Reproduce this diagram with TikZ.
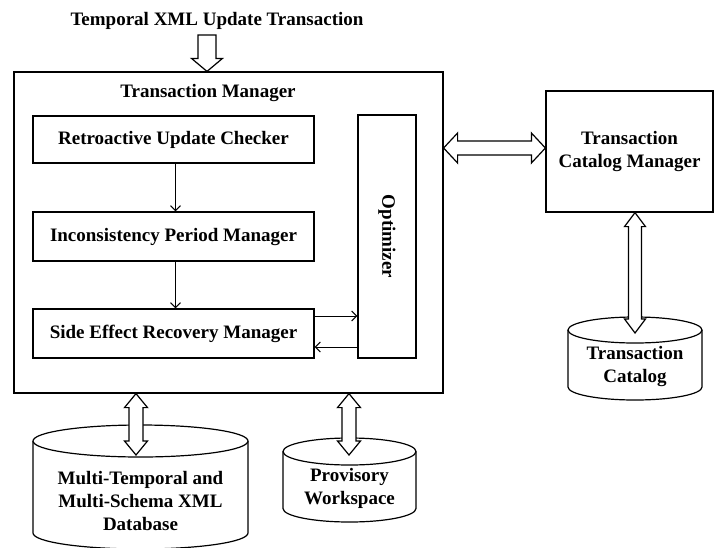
\documentclass[tikz,border=0pt]{standalone}
\usepackage{fontspec}
\setmainfont{Liberation Serif}
\usetikzlibrary{calc,arrows.meta}
\tikzset{
  box/.style={draw, line width=1.2pt, fill=white, inner sep=0pt, font=\bfseries\fontsize{19}{23}\selectfont, align=center},
  lbl/.style={font=\bfseries\fontsize{19}{23}\selectfont, align=center, inner sep=0pt},
  thinarr/.style={line width=1pt, -{Straight Barb[length=5pt,width=10pt]}},
  hollow/.style={draw, line width=1.2pt, fill=white, line join=miter},
  cyl/.style={line width=1.2pt, fill=white},
}
% double hollow arrow: from, to, half shaft width, half head width
\newcommand\dblarrow[4]{%
  \path[hollow] let \p1=(#1), \p2=(#2), \n1={veclen(\x2-\x1,\y2-\y1)}, \n2={atan2(\y2-\y1,\x2-\x1)} in
   [shift={(\p1)}, rotate=\n2] (0pt,0pt) -- (14pt,#4) -- (14pt,#3) -- (\n1-14pt,#3) -- (\n1-14pt,#4) -- (\n1,0pt)
   -- (\n1-14pt,-#4) -- (\n1-14pt,-#3) -- (14pt,-#3) -- (14pt,-#4) -- cycle;}
% single hollow arrow: from, to, half shaft width, half head width
\newcommand\sglarrow[4]{%
  \path[hollow] let \p1=(#1), \p2=(#2), \n1={veclen(\x2-\x1,\y2-\y1)}, \n2={atan2(\y2-\y1,\x2-\x1)} in
   [shift={(\p1)}, rotate=\n2] (0pt,#3) -- (\n1-13pt,#3) -- (\n1-13pt,#4) -- (\n1,0pt)
   -- (\n1-13pt,-#4) -- (\n1-13pt,-#3) -- (0pt,-#3) -- cycle;}
\begin{document}
\begin{tikzpicture}[x=1pt,y=-1pt]
\useasboundingbox (0,0) rectangle (715,547);

% title
\node[lbl] (title) at (217,21) {Temporal XML Update Transaction};

% transaction manager
\node[box, minimum width=429pt, minimum height=321pt] (tm) at (228.5,232.5) {};
\node[lbl] (tmlbl) at (208,93) {Transaction Manager};
\node[box, minimum width=281pt, minimum height=47pt] (ruc) at (173.5,139.5) {Retroactive Update Checker};
\node[box, minimum width=281pt, minimum height=49pt] (ipm) at (173.5,236.5) {Inconsistency Period Manager};
\node[box, minimum width=281pt, minimum height=49pt] (serm) at (173.5,333.5) {Side Effect Recovery Manager};
\node[box, minimum width=58pt, minimum height=243pt] (opt) at (387,236.5) {};
\node[lbl, rotate=-90] (optlbl) at (opt.center) {Optimizer};

% internal arrows
\draw[thinarr] ([xshift=2pt]ruc.south) -- ([xshift=2pt]ipm.north);
\draw[thinarr] ([xshift=2pt]ipm.south) -- ([xshift=2pt]serm.north);
\draw[thinarr] (serm.east |- 0,316) -- (opt.west |- 0,316);
\draw[thinarr] (opt.west |- 0,347) -- (serm.east |- 0,347);

% transaction catalog manager
\node[box, minimum width=167pt, minimum height=121pt] (tcm) at (629.5,151.5) {Transaction\\Catalog Manager};

% cylinders
% transaction catalog
\draw[cyl] (568,330) -- (568,387) arc[start angle=180,end angle=360,x radius=67pt,y radius=13pt] -- (702,330);
\draw[cyl] (635,330) ellipse[x radius=67pt, y radius=13pt];
\node[lbl] (tc) at (635,366) {Transaction\\Catalog};
% database
\draw[cyl] (33,441) -- (33,533) arc[start angle=180,end angle=360,x radius=107.5pt,y radius=16pt] -- (248,441);
\draw[cyl] (140.5,441) ellipse[x radius=107.5pt, y radius=16pt];
\node[lbl] (db) at (140.5,500.5) {Multi-Temporal and\\Multi-Schema XML\\Database};
% provisory workspace
\draw[cyl] (283,451.5) -- (283,508.5) arc[start angle=180,end angle=360,x radius=66.5pt,y radius=13.5pt] -- (416,451.5);
\draw[cyl] (349.5,451.5) ellipse[x radius=66.5pt, y radius=13.5pt];
\node[lbl] (pw) at (349.5,488.5) {Provisory\\Workspace};

% hollow arrows
\coordinate (tin) at (207,35);
\sglarrow{tin}{tin |- tm.north}{9pt}{15.5pt}
\dblarrow{tm.east |- 0,148}{tcm.west |- 0,148}{7pt}{15pt}
\coordinate (tctop) at (635,333);
\dblarrow{tcm.south -| tctop}{tctop}{6.5pt}{10.5pt}
\coordinate (dbtop) at (136,455);
\dblarrow{tm.south -| dbtop}{dbtop}{7pt}{11.5pt}
\coordinate (pwtop) at (349,455);
\dblarrow{tm.south -| pwtop}{pwtop}{7pt}{11.5pt}
\end{tikzpicture}
\end{document}
